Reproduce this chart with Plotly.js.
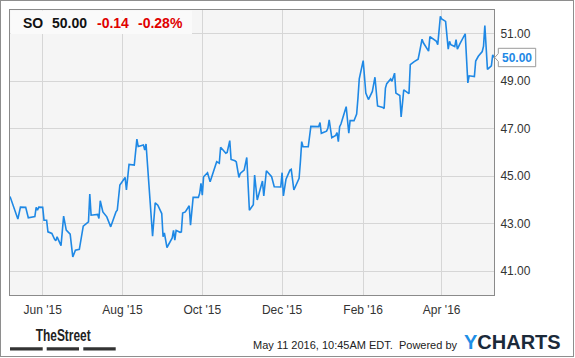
<!DOCTYPE html>
<html>
<head>
<meta charset="utf-8">
<script src="https://cdn.plot.ly/plotly-3.0.1.min.js"></script>
<style>
html,body{margin:0;padding:0;background:#fff;}
#wrap{position:relative;width:575px;height:358px;}
#chart{width:575px;height:358px;}
#frame{position:absolute;left:0;top:0;width:572px;height:355px;border:1px solid #8e8e8e;pointer-events:none;}
</style>
</head>
<body>
<div id="wrap"><div id="chart"></div><div id="frame"></div></div>
<script>
const dates = [
'2015-05-07','2015-05-13','2015-05-15','2015-05-19','2015-05-21','2015-05-26','2015-05-27','2015-05-28','2015-05-29','2015-06-01',
'2015-06-02','2015-06-04','2015-06-05','2015-06-08','2015-06-10','2015-06-11','2015-06-12','2015-06-15','2015-06-17','2015-06-19',
'2015-06-22','2015-06-24','2015-06-26','2015-06-29','2015-07-02','2015-07-06','2015-07-07','2015-07-08','2015-07-13','2015-07-14',
'2015-07-15','2015-07-17','2015-07-20','2015-07-23','2015-07-27','2015-07-28','2015-07-30','2015-08-03','2015-08-04','2015-08-06',
'2015-08-10','2015-08-12','2015-08-13','2015-08-17','2015-08-18','2015-08-19',
'2015-08-24','2015-08-26','2015-08-28','2015-08-31','2015-09-01','2015-09-02','2015-09-04','2015-09-08','2015-09-09','2015-09-10',
'2015-09-11','2015-09-14','2015-09-15','2015-09-16','2015-09-18','2015-09-21','2015-09-22',
'2015-09-24','2015-09-28','2015-09-29','2015-09-30','2015-10-01','2015-10-02','2015-10-05','2015-10-07','2015-10-09','2015-10-12',
'2015-10-14','2015-10-15','2015-10-19','2015-10-20','2015-10-22','2015-10-23','2015-10-26','2015-10-27','2015-10-29','2015-10-30',
'2015-11-02','2015-11-04','2015-11-06',
'2015-11-09','2015-11-10','2015-11-12','2015-11-13','2015-11-16','2015-11-17','2015-11-19','2015-11-23','2015-11-25','2015-11-30',
'2015-12-01','2015-12-02','2015-12-04','2015-12-07','2015-12-08','2015-12-10','2015-12-14','2015-12-15','2015-12-16','2015-12-17',
'2015-12-21','2015-12-23','2015-12-29',
'2015-12-30','2015-12-31','2016-01-04','2016-01-05','2016-01-06','2016-01-08','2016-01-11','2016-01-12','2016-01-13','2016-01-14',
'2016-01-15','2016-01-19','2016-01-21','2016-01-22','2016-01-25','2016-01-27','2016-01-28','2016-01-29','2016-02-01','2016-02-03',
'2016-02-05','2016-02-08','2016-02-10',
'2016-02-12','2016-02-16','2016-02-17','2016-02-18','2016-02-19','2016-02-22','2016-02-23','2016-02-25','2016-02-26','2016-02-29',
'2016-03-01','2016-03-02','2016-03-03','2016-03-07','2016-03-08','2016-03-11','2016-03-14','2016-03-15','2016-03-17','2016-03-18',
'2016-03-22','2016-03-23','2016-03-28','2016-03-29','2016-03-30','2016-03-31','2016-04-01',
'2016-04-04','2016-04-06','2016-04-07','2016-04-08','2016-04-11','2016-04-12','2016-04-13','2016-04-15','2016-04-19','2016-04-21',
'2016-04-22','2016-04-26','2016-04-27','2016-04-29','2016-05-02','2016-05-03','2016-05-04','2016-05-06','2016-05-09','2016-05-10',
'2016-05-11'
];
const prices = [
44.15,43.20,43.70,43.69,43.25,43.30,43.69,43.57,43.70,43.69,
43.15,43.15,42.66,42.59,42.35,42.28,42.45,42.08,43.32,42.73,
42.56,41.60,41.89,41.92,42.90,43.08,44.25,43.36,43.39,43.22,
43.97,43.50,43.29,42.87,43.50,43.57,44.63,44.95,44.42,45.50,
45.47,46.56,46.25,46.32,46.10,46.36,
42.48,43.88,43.78,43.43,42.45,42.62,42.00,42.40,42.72,42.31,
42.72,42.64,42.66,43.45,43.50,43.76,42.94,
44.11,44.11,44.28,44.70,44.20,44.98,45.15,44.77,45.12,45.61,
45.55,46.22,45.97,46.00,46.50,45.71,45.65,45.60,44.95,45.12,
45.26,45.79,43.57,
43.80,45.05,44.00,44.20,44.80,44.17,45.23,44.98,44.56,44.55,
45.15,44.17,44.88,45.26,45.29,44.42,44.91,45.61,46.46,46.24,
46.24,47.10,47.09,
47.26,46.81,46.90,47.02,47.37,46.62,46.72,46.84,46.46,47.09,
47.20,47.93,46.81,47.34,47.34,47.62,48.29,49.10,49.87,48.50,
48.23,48.57,49.17,
47.96,47.90,47.85,48.71,48.90,49.10,49.00,49.34,48.50,48.40,
47.50,48.05,48.64,48.48,49.70,49.83,49.93,50.20,50.77,50.62,
50.27,50.88,50.68,50.54,51.20,51.73,51.62,
51.52,50.35,50.68,50.54,50.46,50.75,50.35,50.58,51.00,48.93,
49.23,49.20,49.85,50.05,50.25,50.48,51.34,49.50,49.65,50.11,
50.00
];
const xTickDates = ['2015-06-01','2015-08-01','2015-10-01','2015-12-01','2016-02-01','2016-04-01'];
const xTickText = ["Jun '15","Aug '15","Oct '15","Dec '15","Feb '16","Apr '16"];
const yTicks = [41,43,45,47,49,51];
const ticker = 'SO';
const lastPrice = '50.00';
const change = '-0.14';
const changePct = '-0.28%';
const stamp = 'May 11 2016, 10:45AM EDT.\u00a0 Powered by';

const FONT = 'Liberation Sans, Arial, sans-serif';
const BLUE = '#1e88e5';
const lastVal = prices[prices.length-1];

const trace = {
  x: dates, y: prices, type: 'scatter', mode: 'lines',
  line: {color: BLUE, width: 1.6}, hoverinfo: 'skip'
};

// paper coordinate helpers (plot area: x 10..494, y 10..295 px)
const PW = 484, PH = 285;
const px = v => (v - 10) / PW;
const py = v => (295 - v) / PH;

const layout = {
  width: 575, height: 358,
  margin: {l: 10, r: 81, t: 10, b: 63, pad: 0},
  paper_bgcolor: '#ffffff', plot_bgcolor: '#f5f5f5',
  showlegend: false,
  font: {family: FONT, size: 12, color: '#333'},
  xaxis: {
    type: 'date', range: ['2015-05-07', '2016-05-11'],
    tickmode: 'array', tickvals: xTickDates, ticktext: xTickText,
    showgrid: true, gridcolor: '#d6d6d6', gridwidth: 1,
    showline: true, linecolor: '#8a8a8a', linewidth: 1, mirror: true,
    ticks: 'outside', ticklen: 4, tickcolor: 'rgba(0,0,0,0)',
    tickfont: {family: FONT, size: 12, color: '#333'},
    zeroline: false, fixedrange: true
  },
  yaxis: {
    range: [40, 52], side: 'right',
    tickmode: 'array', tickvals: yTicks, tickformat: '.2f',
    showgrid: true, gridcolor: '#d6d6d6', gridwidth: 1,
    showline: true, linecolor: '#8a8a8a', linewidth: 1, mirror: true,
    ticks: 'outside', ticklen: 3, tickcolor: 'rgba(0,0,0,0)',
    tickfont: {family: FONT, size: 12, color: '#333'},
    zeroline: false, fixedrange: true
  },
  shapes: [
    {type: 'rect', xref: 'paper', yref: 'paper', x0: px(10.6), x1: px(192), y0: py(34), y1: py(10.6),
     fillcolor: '#fafafa', line: {width: 0}, layer: 'above'},
    {type: 'path', xref: 'paper', yref: 'y', xsizemode: 'pixel', ysizemode: 'pixel',
     xanchor: 1, yanchor: lastVal,
     path: 'M 4.3 -9.2 L 41.7 -9.2 L 41.7 9.2 L 4.3 9.2 L 4.3 4 L 0.8 0 L 4.3 -4 Z',
     fillcolor: '#ffffff', line: {color: '#9a9a9a', width: 1}, layer: 'above'},
    {type: 'rect', xref: 'paper', yref: 'paper', x0: px(10), x1: px(42.7), y0: py(350.5), y1: py(347.3), fillcolor: '#333', line: {width: 0}},
    {type: 'rect', xref: 'paper', yref: 'paper', x0: px(46.7), x1: px(79), y0: py(350.5), y1: py(347.3), fillcolor: '#333', line: {width: 0}},
    {type: 'rect', xref: 'paper', yref: 'paper', x0: px(83.3), x1: px(115.7), y0: py(350.5), y1: py(347.3), fillcolor: '#333', line: {width: 0}}
  ],
  annotations: [
    {xref: 'paper', yref: 'paper', x: px(20.5), y: py(23), xanchor: 'left', yanchor: 'middle', showarrow: false,
     text: '<b>' + ticker + '</b>', font: {family: FONT, size: 14, color: '#111'}},
    {xref: 'paper', yref: 'paper', x: px(49.5), y: py(23), xanchor: 'left', yanchor: 'middle', showarrow: false,
     text: '<b>' + lastPrice + '</b>', font: {family: FONT, size: 14, color: '#111'}},
    {xref: 'paper', yref: 'paper', x: px(94.5), y: py(23), xanchor: 'left', yanchor: 'middle', showarrow: false,
     text: '<b>' + change + '</b>', font: {family: FONT, size: 14, color: '#e00000'}},
    {xref: 'paper', yref: 'paper', x: px(135.5), y: py(23), xanchor: 'left', yanchor: 'middle', showarrow: false,
     text: '<b>' + changePct + '</b>', font: {family: FONT, size: 14, color: '#e00000'}},
    {xref: 'paper', yref: 'y', x: 1, y: lastVal, xshift: 22.7, xanchor: 'center', yanchor: 'middle', showarrow: false,
     text: '<b>' + lastPrice + '</b>', font: {family: FONT, size: 12, color: BLUE}},
    {xref: 'paper', yref: 'paper', x: px(63), y: py(335.5), xanchor: 'center', yanchor: 'middle', showarrow: false,
     text: '<b>TheStreet</b>', font: {family: FONT, size: 17, color: '#222'}},
    {xref: 'paper', yref: 'paper', x: px(460), y: py(344.5), xanchor: 'right', yanchor: 'middle', showarrow: false,
     text: stamp, font: {family: FONT, size: 11, color: '#222'}},
    {xref: 'paper', yref: 'paper', x: px(462), y: py(342), xanchor: 'left', yanchor: 'middle', showarrow: false,
     text: '<b><span style="color:#1e8fe6">Y</span>CHARTS</b>', font: {family: FONT, size: 20, color: '#1b2a3a'}}
  ]
};

Plotly.newPlot('chart', [trace], layout, {staticPlot: true, displayModeBar: false}).then(function () {
  // condense the "TheStreet" wordmark horizontally, as in the original logo
  const texts = document.querySelectorAll('.annotation-text');
  texts.forEach(function (t) {
    if (t.textContent === 'TheStreet') {
      t.setAttribute('textLength', '55');
      t.setAttribute('lengthAdjust', 'spacingAndGlyphs');
    }
  });
});
</script>
</body>
</html>
